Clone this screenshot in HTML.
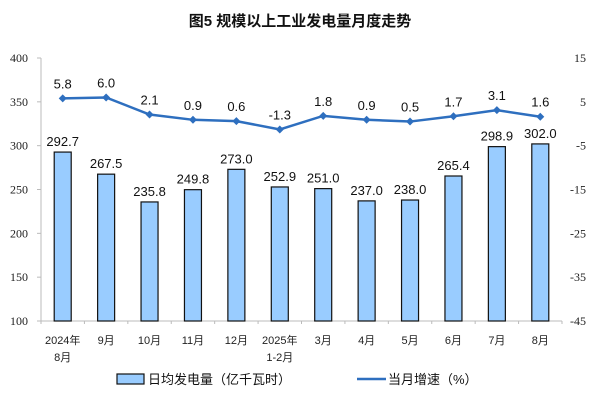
<!DOCTYPE html>
<html><head><meta charset="utf-8"><style>
body{margin:0;background:#fff;}
svg text{font-family:"Liberation Sans","Noto Sans CJK SC",sans-serif;}
svg text.serif{font-family:"Liberation Serif","Noto Serif CJK SC",serif;}
</style></head><body>
<svg width="600" height="404" viewBox="0 0 600 404">
<text x="300" y="26" text-anchor="middle" font-size="15" font-weight="600" fill="#111">图5  规模以上工业发电量月度走势</text>
<g id="axes"></g>
<g id="bars"></g>
<g id="line"></g>
<g>
<rect x="117" y="374" width="27" height="10" fill="#99ccff" stroke="#111" stroke-width="1.2"/>
<text x="148" y="384" font-size="13" fill="#111">日均发电量（亿千瓦时）</text>
<line x1="357" y1="379" x2="386" y2="379" stroke="#2e6fbf" stroke-width="2.5"/>
<text x="388" y="384" font-size="13" fill="#111">当月增速（%）</text>
</g>
</svg>
<script>
const categories=["2024年|8月","9月","10月","11月","12月","2025年|1-2月","3月","4月","5月","6月","7月","8月"];
const barValues=[292.7,267.5,235.8,249.8,273.0,252.9,251.0,237.0,238.0,265.4,298.9,302.0];
const growthValues=[5.8,6.0,2.1,0.9,0.6,-1.3,1.8,0.9,0.5,1.7,3.1,1.6];
const leftTicks=[100,150,200,250,300,350,400];
const rightTicks=[-45,-35,-25,-15,-5,5,15];
const NS="http://www.w3.org/2000/svg";
const X0=41,X1=562,Y0=321,Y1=58;
const bw=(X1-X0)/categories.length;
const xc=i=>X0+bw*(i+0.5);
const yL=v=>Y0-(v-100)/300*(Y0-Y1);
const yR=v=>Y0-(v+45)/60*(Y0-Y1);
function mk(tag,attrs,parent,txt){const e=document.createElementNS(NS,tag);for(const k in attrs)e.setAttribute(k,attrs[k]);if(txt!==undefined)e.textContent=txt;parent.appendChild(e);return e;}
const axes=document.getElementById('axes');
let a=mk('line',{x1:X0,y1:Y1,x2:X0,y2:Y0,stroke:'#bbb'},axes);


a=mk('line',{x1:X0,y1:Y0,x2:X1,y2:Y0,stroke:'#bbb'},axes);


leftTicks.forEach(v=>{
 const t=mk('line',{x1:X0-4,y1:yL(v),x2:X0,y2:yL(v),stroke:'#bbb'},axes);
 
 
 const l=mk('text',{x:28,y:yL(v)+4,'text-anchor':'end','font-size':'12',fill:'#222','class':'serif'},axes,v);
 
 
});
rightTicks.forEach(v=>{
 const l=mk('text',{x:586,y:yR(v)+4,'text-anchor':'end','font-size':'12',fill:'#222','class':'serif'},axes,v);
 
 
});
for(let i=0;i<=categories.length;i++){
 const t=mk('line',{x1:X0+bw*i,y1:Y0,x2:X0+bw*i,y2:Y0+3,stroke:'#bbb'},axes);
 
 
}
categories.forEach((c,i)=>{
 c.split('|').forEach((p,j)=>{
  const l=mk('text',{x:xc(i),y:344+j*17,'text-anchor':'middle','font-size':'11',fill:'#222'},axes,p);
  
  
 });
});
const bars=document.getElementById('bars');
barValues.forEach((v,i)=>{
 const r=mk('rect',{x:xc(i)-8.5,y:yL(v),width:17,height:Y0-yL(v),fill:'#99ccff',stroke:'#111','stroke-width':'1.2'},bars);
 
 
 const l=mk('text',{x:xc(i),y:yL(v)-6,'text-anchor':'middle','font-size':'13',fill:'#111'},bars,v.toFixed(1));
 
 
});
const lg=document.getElementById('line');
const pts=growthValues.map((v,i)=>xc(i)+','+yR(v)).join(' ');
const pl=mk('polyline',{points:pts,fill:'none',stroke:'#2e6fbf','stroke-width':'2.5'},lg);


growthValues.forEach((v,i)=>{
 const x=xc(i),y=yR(v);
 const m=mk('polygon',{points:`${x},${y-4} ${x+4},${y} ${x},${y+4} ${x-4},${y}`,fill:'#2e6fbf'},lg);
 
 
 const l=mk('text',{x:x,y:y-10,'text-anchor':'middle','font-size':'13',fill:'#111'},lg,v.toFixed(1));
 
 
});
</script>
</body></html>
